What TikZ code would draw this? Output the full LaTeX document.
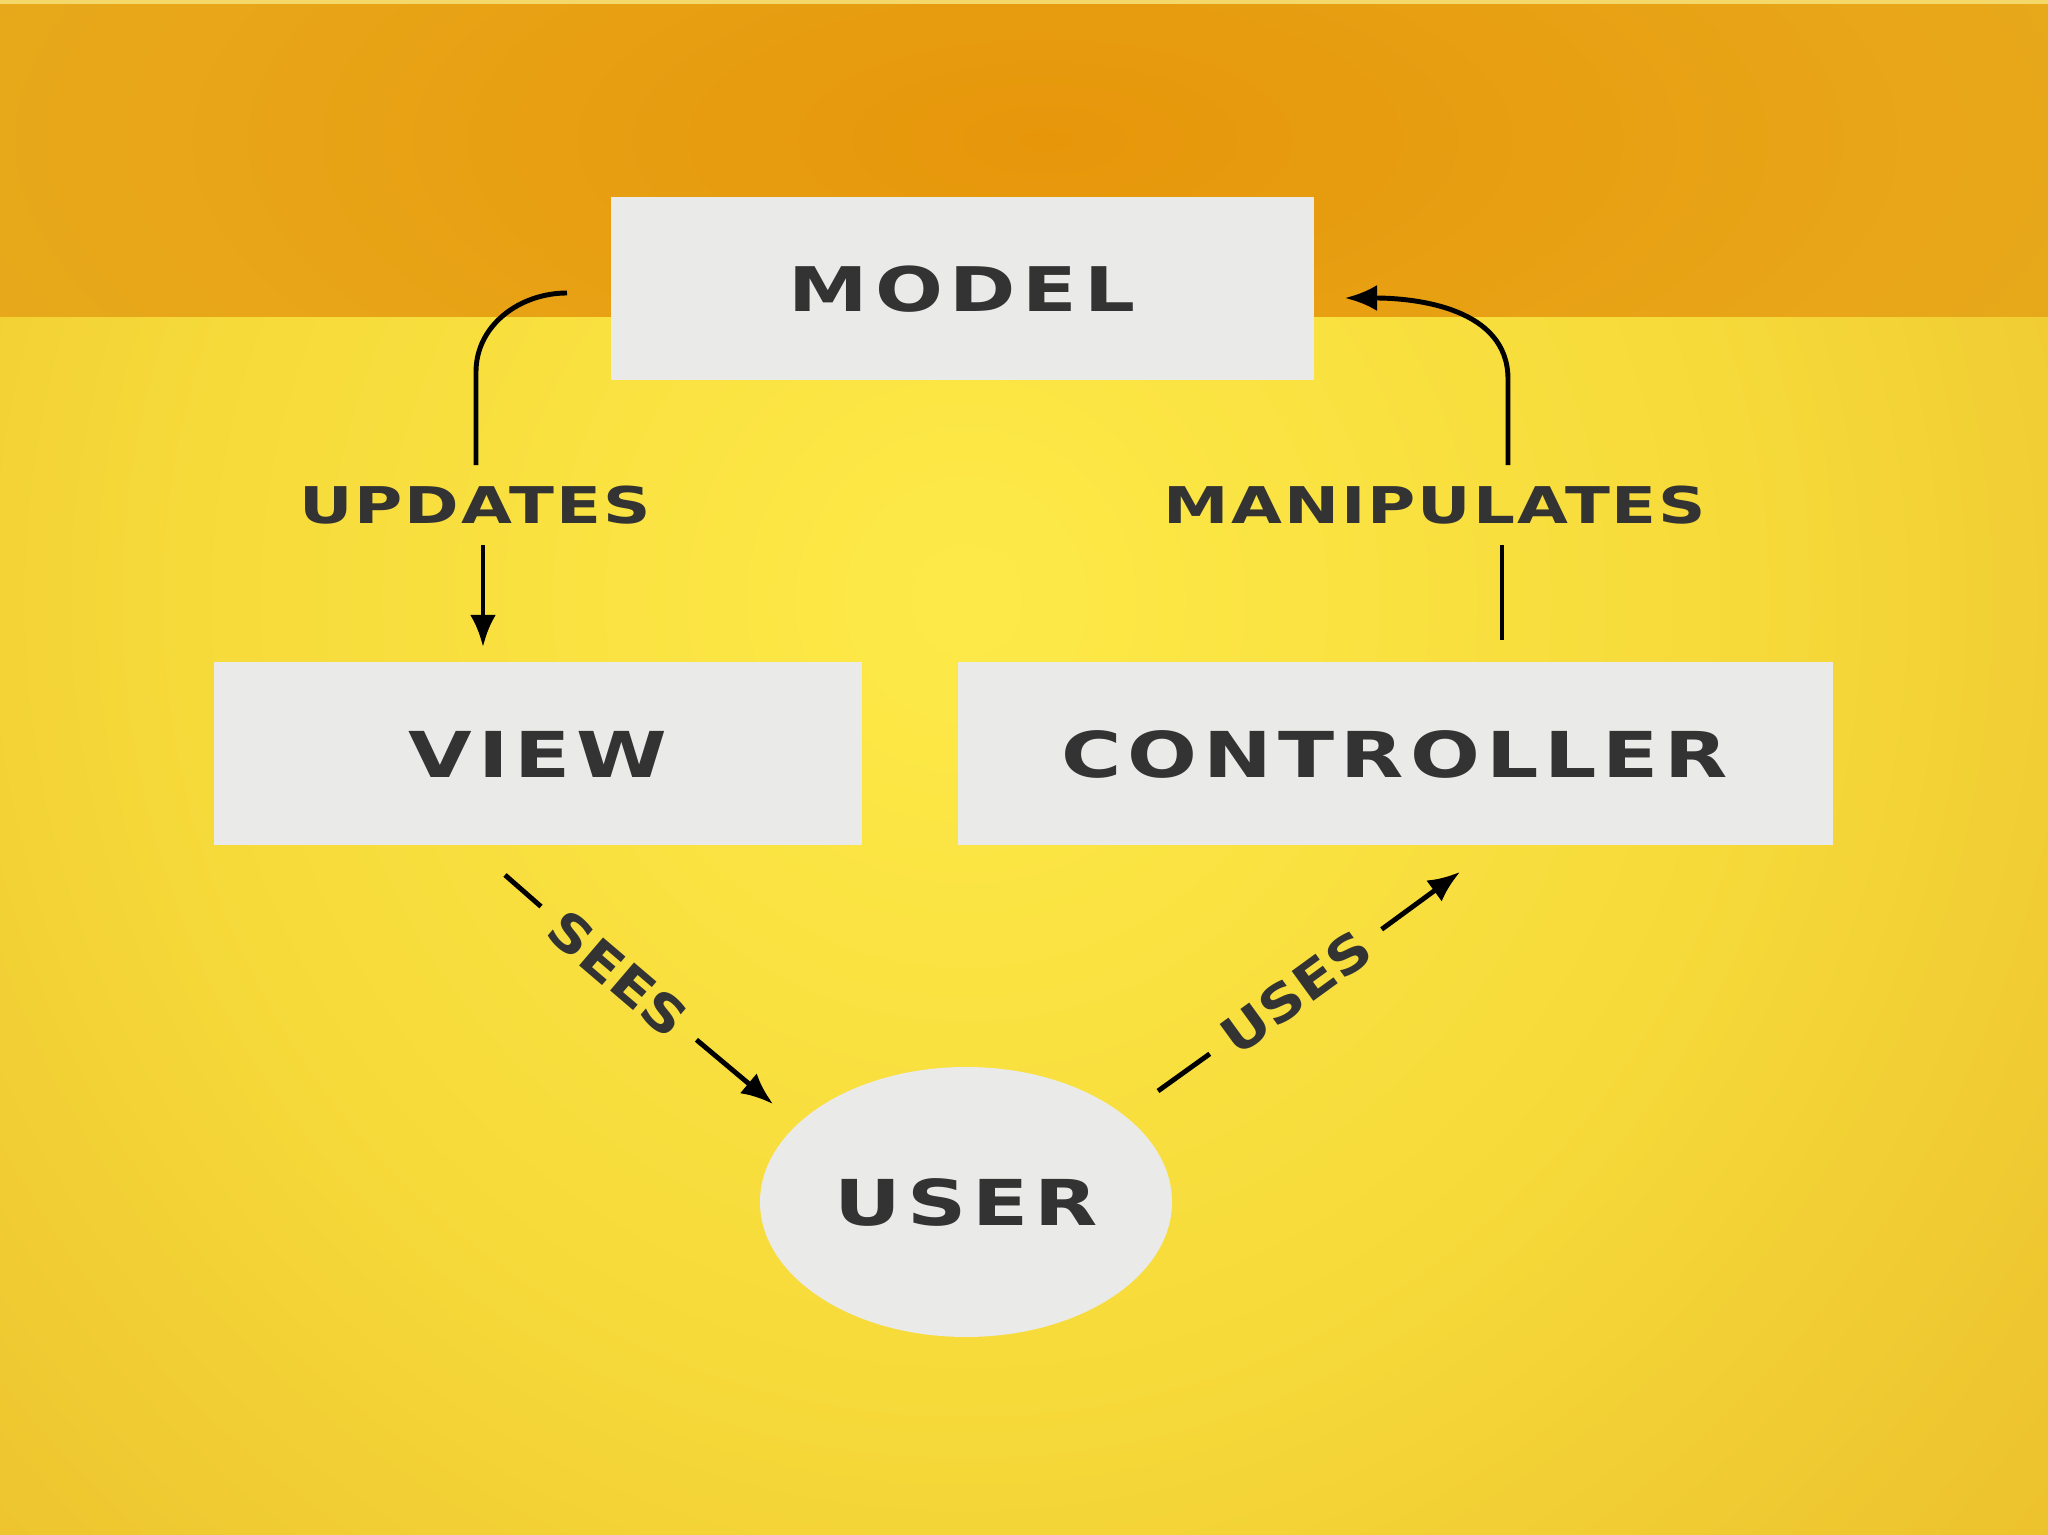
\documentclass[tikz,border=0pt]{standalone}
\usepackage{fontspec}
\setmainfont{DejaVu Sans}
\newfontfamily\boxfont{DejaVu Sans}[FakeStretch=1.3,LetterSpace=9.5]
\newfontfamily\lblfont{DejaVu Sans}[FakeStretch=1.3,LetterSpace=4]
\usetikzlibrary{positioning,calc,shapes.geometric,arrows.meta}

\definecolor{boxgray}{RGB}{234,234,232}
\definecolor{inkgray}{RGB}{51,51,51}
\definecolor{glowin}{RGB}{253,234,72}
\definecolor{glowmid}{RGB}{246,218,58}
\definecolor{glowlow}{RGB}{234,188,42}
\definecolor{glowout}{RGB}{222,163,31}
\definecolor{bandin}{RGB}{231,150,10}
\definecolor{bandmid}{RGB}{232,166,24}
\definecolor{bandout}{RGB}{226,177,38}
\definecolor{topstrip}{RGB}{245,216,106}

\pgfdeclareradialshading{lowglow}{\pgfpoint{0bp}{0bp}}{color(0bp)=(glowin); color(18bp)=(glowmid); color(36bp)=(glowlow); color(50bp)=(glowout); color(72bp)=(glowout)}
\pgfdeclareradialshading{topglow}{\pgfpoint{0bp}{0bp}}{color(0bp)=(bandin); color(20bp)=(bandmid); color(45bp)=(bandout); color(72bp)=(bandout)}

\newcommand{\diagtext}[1]{\scalebox{1.15}[1]{#1}}

\begin{document}
\begin{tikzpicture}[>={Latex[length=3.2mm,width=2.6mm]},
    mvcbox/.style={fill=boxgray, text=inkgray, inner sep=0pt, minimum height=1.83cm, font=\boxfont\bfseries\fontsize{18}{20}\selectfont},
    flowlbl/.style={text=inkgray, inner xsep=0pt, inner ysep=2mm, font=\lblfont\bfseries\fontsize{14.4}{16}\selectfont},
    diaglbl/.style={text=inkgray, inner xsep=2mm, inner ysep=0pt, font=\bfseries\fontsize{14.4}{16}\selectfont},
    flow/.style={line width=1.4pt, black}]
    \useasboundingbox (0,0) rectangle (20.48,15.35);

    % background
    \begin{scope}
        \clip (0,0) rectangle (20.48,12.18);
        \shade[shading=lowglow] (-1.16,-1.65) rectangle (20.48,20.35);
    \end{scope}
    \begin{scope}
        \clip (0,12.18) rectangle (20.48,15.35);
        \shade[shading=topglow] (-0.55,9.45) rectangle (21.45,18.45);
    \end{scope}
    \fill[topstrip] (0,15.31) rectangle (20.48,15.35);

    % boxes
    \node[mvcbox, minimum width=7.03cm, font=\boxfont\bfseries\fontsize{17.5}{20}\selectfont\addfontfeatures{LetterSpace=11}] (model) at (9.62,12.46) {MODEL};
    \node[mvcbox, minimum width=6.48cm] (view) at (5.38,7.81) {VIEW};
    \node[mvcbox, minimum width=8.75cm] (controller) at (13.95,7.81) {CONTROLLER};
    \node[mvcbox, ellipse, minimum width=4.12cm, minimum height=2.70cm] (user) at (9.66,3.33) {USER};

    % labels
    \node[flowlbl] (updates) at (4.75,10.30) {UPDATES};
    \node[flowlbl] (manipulates) at (14.35,10.30) {MANIPULATES};
    \node[diaglbl, rotate=-40.5] (sees) at (6.18,5.61) {\diagtext{SEES}};
    \node[diaglbl, rotate=36] (uses) at (12.96,5.43) {\diagtext{USES}};

    \coordinate (updtop) at (5.67,12.42);
    \coordinate (ctrltop) at (15.02,8.95);
    \coordinate (modtip) at (13.45,12.37);
    \coordinate (seestart) at (5.05,6.60);
    \coordinate (seesend) at (7.73,4.31);
    \coordinate (usestart) at (11.58,4.44);
    \coordinate (usesend) at (14.60,6.63);

    % updates
    \draw[flow] (updtop) to[out=180,in=90] (4.76,11.63) -- (4.76,11.63 |- updates.north);
    \draw[flow,->] (updates.south -| 4.83,0) -- ([yshift=1.5mm]view.north -| 4.83,0);

    % manipulates
    \draw[flow] (ctrltop) -- (ctrltop |- manipulates.south);
    \draw[flow,->] (manipulates.north -| 15.08,0) -- (15.08,11.56) to[out=90,in=0] (modtip);

    % sees and uses
    \draw[flow] (seestart) -- (sees);
    \draw[flow,->] (sees) -- (seesend);
    \draw[flow] (usestart) -- (uses);
    \draw[flow,->] (uses) -- (usesend);
\end{tikzpicture}
\end{document}
